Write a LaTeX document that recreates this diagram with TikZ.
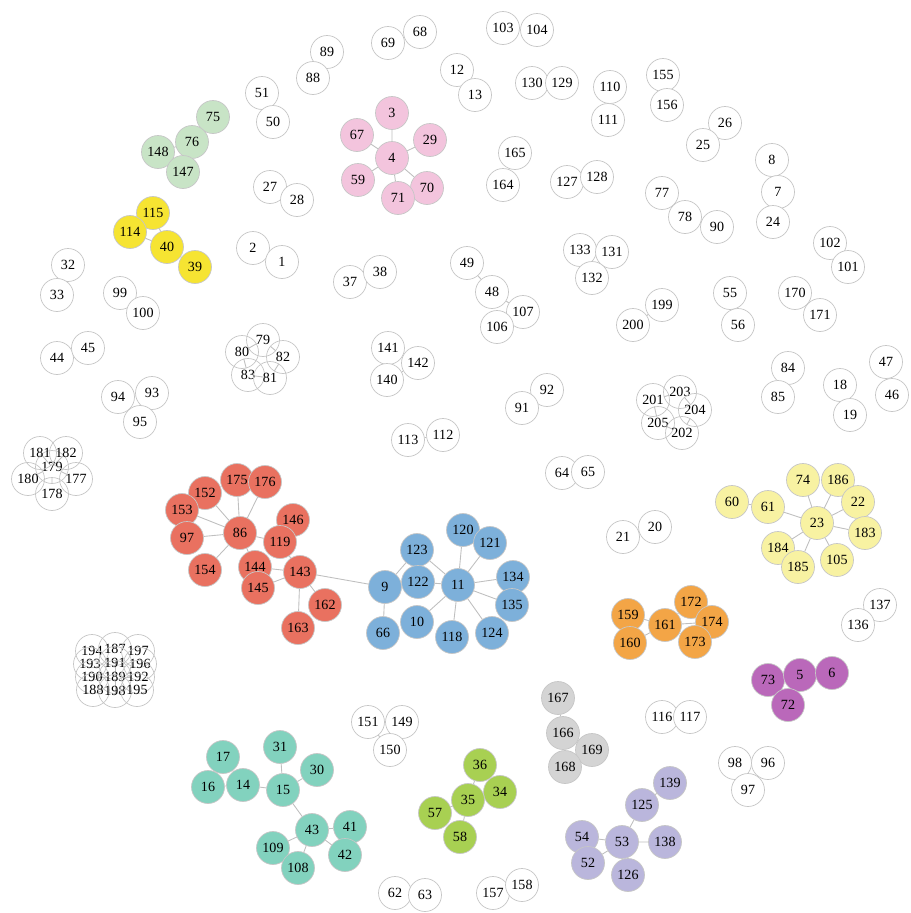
\documentclass[tikz,border=0pt]{standalone}
\usepackage{fontspec}
\setmainfont{Liberation Serif}
\usetikzlibrary{backgrounds}

\definecolor{pinkc}{RGB}{243,196,221}
\definecolor{mintc}{RGB}{200,228,198}
\definecolor{goldc}{RGB}{246,228,50}
\definecolor{redc}{RGB}{233,113,96}
\definecolor{bluec}{RGB}{125,176,218}
\definecolor{creamc}{RGB}{248,242,162}
\definecolor{orangec}{RGB}{243,165,70}
\definecolor{plumc}{RGB}{186,104,186}
\definecolor{greyc}{RGB}{212,212,212}
\definecolor{limec}{RGB}{168,208,82}
\definecolor{lilacc}{RGB}{186,182,220}
\definecolor{tealc}{RGB}{130,210,190}

\tikzstyle{bag} = [circle, draw=gray!45, fill=white, minimum size=0.66cm, inner sep=0pt, font=\fontsize{8}{8}\selectfont]
\tikzstyle{openbag} = [bag, fill=none]
\tikzstyle{edge} = [draw=gray!50, line width=0.5pt]
\tikzstyle{pinkbag} = [bag, fill=pinkc]
\tikzstyle{mintbag} = [bag, fill=mintc]
\tikzstyle{goldbag} = [bag, fill=goldc]
\tikzstyle{redbag} = [bag, fill=redc]
\tikzstyle{bluebag} = [bag, fill=bluec]
\tikzstyle{creambag} = [bag, fill=creamc]
\tikzstyle{orangebag} = [bag, fill=orangec]
\tikzstyle{plumbag} = [bag, fill=plumc]
\tikzstyle{greybag} = [bag, fill=greyc]
\tikzstyle{limebag} = [bag, fill=limec]
\tikzstyle{lilacbag} = [bag, fill=lilacc]
\tikzstyle{tealbag} = [bag, fill=tealc]

\begin{document}
\begin{tikzpicture}[x=0.02cm, y=-0.02cm]
\useasboundingbox (0,0) rectangle (910,913);
%begin small white groups
\node[bag] (n51) at (262,93) {51};
\node[bag] (n50) at (273,122) {50};
\node[bag] (n89) at (327,52) {89};
\node[bag] (n88) at (313,78) {88};
\node[bag] (n69) at (388,43) {69};
\node[bag] (n68) at (420,32) {68};
\node[bag] (n103) at (503,28) {103};
\node[bag] (n104) at (537,30) {104};
\node[bag] (n12) at (457,70) {12};
\node[bag] (n13) at (475,95) {13};
\node[bag] (n130) at (532,83) {130};
\node[bag] (n129) at (562,83) {129};
\node[bag] (n110) at (610,87) {110};
\node[bag] (n111) at (608,120) {111};
\node[bag] (n155) at (663,75) {155};
\node[bag] (n156) at (667,105) {156};
\node[bag] (n26) at (725,123) {26};
\node[bag] (n25) at (703,145) {25};
\node[bag] (n8) at (772,160) {8};
\node[bag] (n7) at (778,192) {7};
\node[bag] (n24) at (773,222) {24};
\node[bag] (n77) at (662,193) {77};
\node[bag] (n78) at (685,217) {78};
\node[bag] (n90) at (717,227) {90};
\node[bag] (n165) at (515,153) {165};
\node[bag] (n164) at (503,185) {164};
\node[bag] (n127) at (567,182) {127};
\node[bag] (n128) at (597,177) {128};
\node[bag] (n102) at (830,243) {102};
\node[bag] (n101) at (848,267) {101};
\node[bag] (n27) at (270,187) {27};
\node[bag] (n28) at (297,200) {28};
\node[bag] (n2) at (253,248) {2};
\node[bag] (n1) at (282,262) {1};
\node[bag] (n37) at (350,282) {37};
\node[bag] (n38) at (380,272) {38};
\node[bag] (n49) at (467,263) {49};
\node[bag] (n48) at (492,292) {48};
\node[bag] (n107) at (523,312) {107};
\node[bag] (n106) at (497,327) {106};
\node[bag] (n133) at (580,250) {133};
\node[bag] (n131) at (612,252) {131};
\node[bag] (n132) at (592,278) {132};
\node[bag] (n199) at (662,305) {199};
\node[bag] (n200) at (633,325) {200};
\node[bag] (n55) at (730,293) {55};
\node[bag] (n56) at (738,325) {56};
\node[bag] (n170) at (795,293) {170};
\node[bag] (n171) at (820,315) {171};
\node[bag] (n32) at (68,265) {32};
\node[bag] (n33) at (57,295) {33};
\node[bag] (n99) at (120,293) {99};
\node[bag] (n100) at (143,313) {100};
\node[bag] (n44) at (57,358) {44};
\node[bag] (n45) at (88,348) {45};
\node[bag] (n94) at (118,397) {94};
\node[bag] (n93) at (152,393) {93};
\node[bag] (n95) at (140,422) {95};
\node[bag] (n141) at (388,348) {141};
\node[bag] (n142) at (418,363) {142};
\node[bag] (n140) at (387,380) {140};
\node[bag] (n84) at (788,368) {84};
\node[bag] (n85) at (778,397) {85};
\node[bag] (n18) at (840,385) {18};
\node[bag] (n19) at (850,415) {19};
\node[bag] (n47) at (886,362) {47};
\node[bag] (n46) at (892,395) {46};
\node[bag] (n92) at (547,390) {92};
\node[bag] (n91) at (522,408) {91};
\node[bag] (n113) at (408,440) {113};
\node[bag] (n112) at (443,435) {112};
\node[bag] (n64) at (562,473) {64};
\node[bag] (n65) at (588,472) {65};
\node[bag] (n21) at (623,537) {21};
\node[bag] (n20) at (655,527) {20};
\node[bag] (n137) at (880,605) {137};
\node[bag] (n136) at (858,625) {136};
\node[bag] (n116) at (662,717) {116};
\node[bag] (n117) at (690,717) {117};
\node[bag] (n98) at (735,763) {98};
\node[bag] (n96) at (768,763) {96};
\node[bag] (n97) at (748,790) {97};
\node[bag] (n151) at (368,722) {151};
\node[bag] (n149) at (402,722) {149};
\node[bag] (n150) at (390,750) {150};
\node[bag] (n62) at (395,893) {62};
\node[bag] (n63) at (425,895) {63};
\node[bag] (n157) at (493,893) {157};
\node[bag] (n158) at (522,885) {158};
%end small white groups
%begin white five-rings
\node[openbag] (n79) at (263,340) {79};
\node[openbag] (n80) at (242,352) {80};
\node[openbag] (n82) at (283,357) {82};
\node[openbag] (n83) at (248,375) {83};
\node[openbag] (n81) at (270,378) {81};
\node[openbag] (n201) at (653,400) {201};
\node[openbag] (n203) at (680,392) {203};
\node[openbag] (n204) at (695,410) {204};
\node[openbag] (n205) at (658,423) {205};
\node[openbag] (n202) at (682,433) {202};
\node[openbag] (n179) at (52,467) {179};
\node[openbag] (n181) at (40,453) {181};
\node[openbag] (n182) at (66,453) {182};
\node[openbag] (n180) at (28,479) {180};
\node[openbag] (n177) at (76,479) {177};
\node[openbag] (n178) at (52,494) {178};
%end white five-rings
%begin white blob
\node[openbag] (n194) at (92,651) {194};
\node[openbag] (n187) at (115,649) {187};
\node[openbag] (n197) at (138,651) {197};
\node[openbag] (n193) at (90,664) {193};
\node[openbag] (n191) at (115,663) {191};
\node[openbag] (n196) at (140,664) {196};
\node[openbag] (n190) at (92,677) {190};
\node[openbag] (n189) at (115,677) {189};
\node[openbag] (n192) at (138,677) {192};
\node[openbag] (n188) at (93,690) {188};
\node[openbag] (n198) at (115,691) {198};
\node[openbag] (n195) at (137,690) {195};
%end white blob
%begin pink
\node[pinkbag] (n4) at (392,158) {4};
\node[pinkbag] (n3) at (392,113) {3};
\node[pinkbag] (n67) at (357,135) {67};
\node[pinkbag] (n29) at (430,140) {29};
\node[pinkbag] (n59) at (358,180) {59};
\node[pinkbag] (n70) at (427,188) {70};
\node[pinkbag] (n71) at (398,198) {71};
%end pink
%begin mint
\node[mintbag] (n75) at (213,117) {75};
\node[mintbag] (n76) at (192,142) {76};
\node[mintbag] (n148) at (158,152) {148};
\node[mintbag] (n147) at (183,172) {147};
%end mint
%begin gold
\node[goldbag] (n115) at (153,213) {115};
\node[goldbag] (n114) at (130,232) {114};
\node[goldbag] (n40) at (167,247) {40};
\node[goldbag] (n39) at (195,267) {39};
%end gold
%begin red
\node[redbag] (n175) at (237,480) {175};
\node[redbag] (n176) at (265,482) {176};
\node[redbag] (n152) at (205,493) {152};
\node[redbag] (n153) at (182,510) {153};
\node[redbag] (n86) at (240,533) {86};
\node[redbag] (n146) at (293,520) {146};
\node[redbag] (n119) at (280,542) {119};
\node[redbag] (n97red) at (187,538) {97};
\node[redbag] (n154) at (205,570) {154};
\node[redbag] (n144) at (255,567) {144};
\node[redbag] (n145) at (258,588) {145};
\node[redbag] (n143) at (300,572) {143};
\node[redbag] (n162) at (325,605) {162};
\node[redbag] (n163) at (298,628) {163};
%end red
%begin blue
\node[bluebag] (n120) at (463,530) {120};
\node[bluebag] (n121) at (490,543) {121};
\node[bluebag] (n123) at (417,550) {123};
\node[bluebag] (n122) at (418,582) {122};
\node[bluebag] (n9) at (385,587) {9};
\node[bluebag] (n11) at (458,585) {11};
\node[bluebag] (n134) at (513,577) {134};
\node[bluebag] (n135) at (512,605) {135};
\node[bluebag] (n66) at (383,633) {66};
\node[bluebag] (n10) at (417,622) {10};
\node[bluebag] (n118) at (452,637) {118};
\node[bluebag] (n124) at (492,633) {124};
%end blue
%begin cream
\node[creambag] (n60) at (732,502) {60};
\node[creambag] (n61) at (768,507) {61};
\node[creambag] (n74) at (803,480) {74};
\node[creambag] (n186) at (838,480) {186};
\node[creambag] (n22) at (858,502) {22};
\node[creambag] (n23) at (817,523) {23};
\node[creambag] (n183) at (865,533) {183};
\node[creambag] (n184) at (778,548) {184};
\node[creambag] (n185) at (798,567) {185};
\node[creambag] (n105) at (837,560) {105};
%end cream
%begin orange
\node[orangebag] (n159) at (628,615) {159};
\node[orangebag] (n160) at (630,643) {160};
\node[orangebag] (n161) at (665,625) {161};
\node[orangebag] (n172) at (691,602) {172};
\node[orangebag] (n174) at (712,622) {174};
\node[orangebag] (n173) at (695,642) {173};
%end orange
%begin plum
\node[plumbag] (n73) at (768,680) {73};
\node[plumbag] (n5) at (800,675) {5};
\node[plumbag] (n6) at (832,673) {6};
\node[plumbag] (n72) at (788,705) {72};
%end plum
%begin grey
\node[greybag] (n167) at (558,698) {167};
\node[greybag] (n166) at (563,733) {166};
\node[greybag] (n169) at (592,750) {169};
\node[greybag] (n168) at (565,767) {168};
%end grey
%begin lime
\node[limebag] (n36) at (480,765) {36};
\node[limebag] (n34) at (500,792) {34};
\node[limebag] (n35) at (468,800) {35};
\node[limebag] (n57) at (435,813) {57};
\node[limebag] (n58) at (460,837) {58};
%end lime
%begin lilac
\node[lilacbag] (n139) at (670,783) {139};
\node[lilacbag] (n125) at (642,805) {125};
\node[lilacbag] (n53) at (622,842) {53};
\node[lilacbag] (n138) at (665,842) {138};
\node[lilacbag] (n54) at (582,837) {54};
\node[lilacbag] (n52) at (588,863) {52};
\node[lilacbag] (n126) at (628,875) {126};
%end lilac
%begin teal
\node[tealbag] (n31) at (280,747) {31};
\node[tealbag] (n17) at (223,757) {17};
\node[tealbag] (n16) at (208,787) {16};
\node[tealbag] (n14) at (243,785) {14};
\node[tealbag] (n15) at (283,790) {15};
\node[tealbag] (n30) at (317,770) {30};
\node[tealbag] (n43) at (312,830) {43};
\node[tealbag] (n41) at (350,827) {41};
\node[tealbag] (n42) at (345,855) {42};
\node[tealbag] (n109) at (273,848) {109};
\node[tealbag] (n108) at (298,868) {108};
%end teal
%begin edges
\begin{scope}[on background layer]
\draw[edge] (n51)--(n50) (n89)--(n88) (n69)--(n68) (n103)--(n104) (n12)--(n13)
  (n130)--(n129) (n110)--(n111) (n155)--(n156) (n26)--(n25) (n8)--(n7) (n7)--(n24)
  (n77)--(n78) (n78)--(n90) (n165)--(n164) (n127)--(n128) (n102)--(n101)
  (n27)--(n28) (n2)--(n1) (n37)--(n38) (n49)--(n48) (n48)--(n107) (n107)--(n106)
  (n133)--(n131) (n133)--(n132) (n199)--(n200) (n55)--(n56) (n170)--(n171)
  (n32)--(n33) (n99)--(n100) (n44)--(n45) (n94)--(n93) (n94)--(n95) (n93)--(n95)
  (n141)--(n142) (n141)--(n140) (n140)--(n142) (n84)--(n85) (n18)--(n19) (n47)--(n46)
  (n91)--(n92) (n113)--(n112) (n64)--(n65) (n21)--(n20) (n137)--(n136)
  (n116)--(n117) (n98)--(n96) (n98)--(n97) (n96)--(n97)
  (n151)--(n149) (n151)--(n150) (n149)--(n150) (n62)--(n63) (n157)--(n158);
\draw[edge] (n79)--(n80) (n79)--(n82) (n82)--(n81) (n81)--(n83) (n83)--(n80);
\draw[edge] (n201)--(n203) (n203)--(n204) (n204)--(n202) (n202)--(n205) (n205)--(n201);
\draw[edge] (n179)--(n181) (n179)--(n182) (n179)--(n180) (n179)--(n177) (n179)--(n178);
\draw[edge] (n189)--(n187) (n189)--(n191) (n189)--(n190) (n189)--(n192) (n189)--(n198);
\draw[edge] (n4)--(n3) (n4)--(n67) (n4)--(n29) (n4)--(n59) (n4)--(n70) (n4)--(n71);
\draw[edge] (n76)--(n75) (n76)--(n148) (n76)--(n147) (n148)--(n147);
\draw[edge] (n114)--(n115) (n115)--(n40) (n114)--(n40) (n40)--(n39);
\draw[edge] (n86)--(n175) (n86)--(n176) (n86)--(n152) (n86)--(n153) (n86)--(n97red)
  (n86)--(n154) (n86)--(n119) (n86)--(n144) (n119)--(n146) (n143)--(n119)
  (n143)--(n144) (n143)--(n145) (n144)--(n145) (n143)--(n162) (n143)--(n163);
\draw[edge] (n143)--(n9);
\draw[edge] (n11)--(n120) (n11)--(n121) (n11)--(n123) (n11)--(n122) (n11)--(n134)
  (n11)--(n135) (n11)--(n124) (n11)--(n118) (n11)--(n10) (n9)--(n122) (n9)--(n123) (n9)--(n66);
\draw[edge] (n23)--(n61) (n23)--(n74) (n23)--(n186) (n23)--(n22) (n23)--(n183)
  (n23)--(n105) (n23)--(n184) (n23)--(n185) (n60)--(n61);
\draw[edge] (n161)--(n159) (n161)--(n160) (n161)--(n172) (n161)--(n174) (n161)--(n173);
\draw[edge] (n5)--(n73) (n5)--(n6) (n5)--(n72) (n73)--(n72);
\draw[edge] (n166)--(n167) (n166)--(n169) (n166)--(n168) (n168)--(n169);
\draw[edge] (n35)--(n36) (n35)--(n34) (n35)--(n57) (n35)--(n58);
\draw[edge] (n53)--(n54) (n53)--(n52) (n53)--(n126) (n53)--(n138) (n53)--(n125) (n125)--(n139);
\draw[edge] (n15)--(n14) (n15)--(n31) (n15)--(n30) (n15)--(n43) (n14)--(n16) (n14)--(n17)
  (n16)--(n17) (n43)--(n41) (n43)--(n42) (n43)--(n109) (n43)--(n108);
\end{scope}
%end edges
\end{tikzpicture}
\end{document}
